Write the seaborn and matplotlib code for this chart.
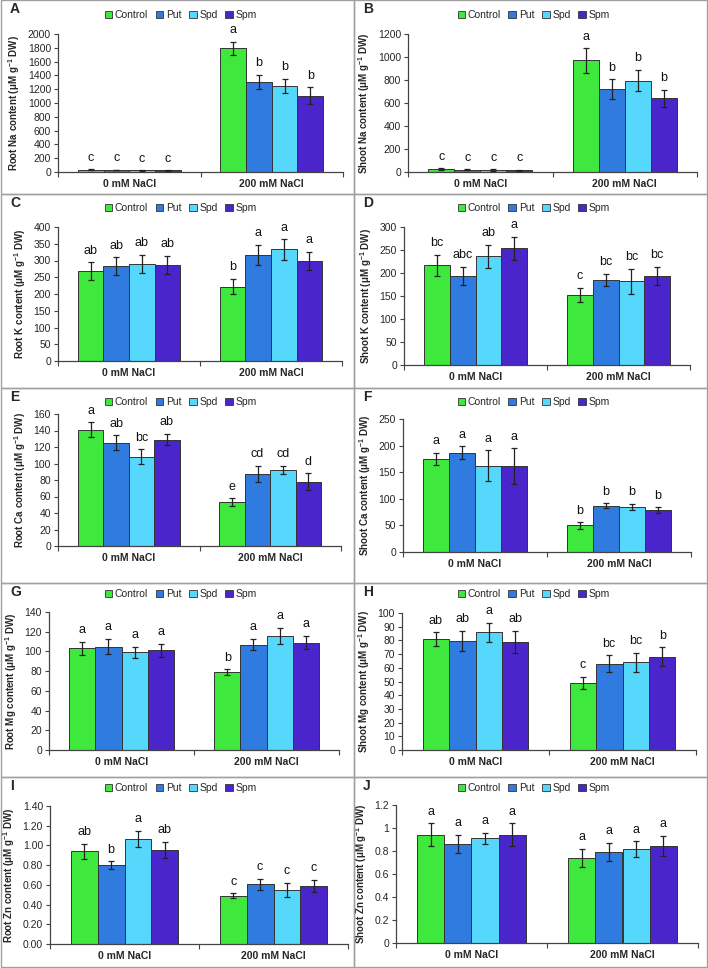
import numpy as np
import pandas as pd
import matplotlib
matplotlib.use("Agg")
import matplotlib.pyplot as plt
import seaborn as sns
from matplotlib.patches import Patch, Rectangle
from matplotlib.ticker import MultipleLocator, FormatStrFormatter, FixedLocator, NullFormatter

sns.set_theme(style="white")
plt.rcParams["font.family"] = ["Liberation Sans", "DejaVu Sans"]
plt.rcParams["mathtext.fontset"] = "custom"
plt.rcParams["mathtext.bf"] = "Liberation Sans:bold"
plt.rcParams["mathtext.rm"] = "Liberation Sans:bold"

# ---------------- data ----------------
treatments = ["Control", "Put", "Spd", "Spm"]
salts = ["0 mM NaCl", "200 mM NaCl"]
colors = ["#3fe83c", "#2f7be0", "#55d8fb", "#4b25cc"]

# order: 0 mM (Control, Put, Spd, Spm), then 200 mM (Control, Put, Spd, Spm)
root_na_mean = [30, 28, 22, 22, 1795, 1305, 1250, 1105]
root_na_err = [8, 6, 5, 5, 95, 105, 100, 125]
root_na_letters = ["c", "c", "c", "c", "a", "b", "b", "b"]

shoot_na_mean = [25, 20, 18, 15, 970, 720, 795, 640]
shoot_na_err = [6, 5, 5, 4, 105, 85, 95, 75]
shoot_na_letters = ["c", "c", "c", "c", "a", "b", "b", "b"]

root_k_mean = [268, 283, 290, 287, 222, 317, 333, 299]
root_k_err = [27, 27, 27, 27, 23, 30, 31, 27]
root_k_letters = ["ab", "ab", "ab", "ab", "b", "a", "a", "a"]

shoot_k_mean = [217, 194, 236, 254, 153, 185, 182, 193]
shoot_k_err = [23, 20, 25, 25, 15, 13, 27, 20]
shoot_k_letters = ["bc", "abc", "ab", "a", "c", "bc", "bc", "bc"]

root_ca_mean = [141, 125, 108, 129, 53, 87, 92, 78]
root_ca_err = [9, 9, 9, 7, 5, 10, 5, 10]
root_ca_letters = ["a", "ab", "bc", "ab", "e", "cd", "cd", "d"]

shoot_ca_mean = [175, 187, 162, 161, 50, 87, 85, 79]
shoot_ca_err = [12, 12, 29, 34, 6, 5, 6, 5]
shoot_ca_letters = ["a", "a", "a", "a", "b", "b", "b", "b"]

root_mg_mean = [103, 105, 99, 101, 79, 107, 116, 109]
root_mg_err = [7, 8, 6, 7, 3, 6, 8, 7]
root_mg_letters = ["a", "a", "a", "a", "b", "a", "a", "a"]

shoot_mg_mean = [81, 79.5, 86, 79, 49, 63, 64, 68]
shoot_mg_err = [5, 7.5, 7, 8, 4.5, 6, 7, 7]
shoot_mg_letters = ["ab", "ab", "a", "ab", "c", "bc", "bc", "b"]

root_zn_mean = [0.94, 0.80, 1.065, 0.955, 0.49, 0.605, 0.55, 0.59]
root_zn_err = [0.075, 0.04, 0.085, 0.08, 0.025, 0.055, 0.07, 0.06]
root_zn_letters = ["ab", "b", "a", "ab", "c", "c", "c", "c"]

shoot_zn_mean = [0.94, 0.86, 0.91, 0.94, 0.74, 0.79, 0.815, 0.845]
shoot_zn_err = [0.10, 0.08, 0.05, 0.10, 0.08, 0.08, 0.07, 0.085]
shoot_zn_letters = ["a", "a", "a", "a", "a", "a", "a", "a"]

# ---------------- layout (pixels) ----------------
W, H = 708, 968
fig = plt.figure(figsize=(W / 100, H / 100), dpi=100)
fig.patch.set_facecolor("white")

def fx(x):
    return x / W

def fy(y):
    return 1 - y / H

row_tops = [0, 194, 388, 583, 777, 967]
col_lefts = [1, 354, 707]

panels = [
    ("A", "Root Na", root_na_mean, root_na_err, root_na_letters, 2000, 200, "%d", (58, 34, 343, 172), 0, 0),
    ("B", "Shoot Na", shoot_na_mean, shoot_na_err, shoot_na_letters, 1200, 200, "%d", (408, 34, 697, 172), 1, 0),
    ("C", "Root K", root_k_mean, root_k_err, root_k_letters, 400, 50, "%d", (58, 227, 342, 361), 0, 1),
    ("D", "Shoot K", shoot_k_mean, shoot_k_err, shoot_k_letters, 300, 50, "%d", (404, 227, 690, 365), 1, 1),
    ("E", "Root Ca", root_ca_mean, root_ca_err, root_ca_letters, 160, 20, "%d", (58, 414, 341, 546), 0, 2),
    ("F", "Shoot Ca", shoot_ca_mean, shoot_ca_err, shoot_ca_letters, 250, 50, "%d", (403, 419, 691, 552), 1, 2),
    ("G", "Root Mg", root_mg_mean, root_mg_err, root_mg_letters, 140, 20, "%d", (49, 612, 339, 750), 0, 3),
    ("H", "Shoot Mg", shoot_mg_mean, shoot_mg_err, shoot_mg_letters, 100, 10, "%d", (402, 613, 696, 750), 1, 3),
    ("I", "Root Zn", root_zn_mean, root_zn_err, root_zn_letters, 1.4, 0.2, "%.2f", (50, 806, 348, 944), 0, 4),
    ("J", "Shoot Zn", shoot_zn_mean, shoot_zn_err, shoot_zn_letters, 1.2, 0.2, "%g", (396, 805, 698, 943), 1, 4),
]

legend_y = [15, 208, 402, 594, 788]
axis_color = "#444444"

for (letter, lab, mean, err, lets, ymax, step, fmt, rect, col, row) in panels:
    l, t, r, b = rect
    ax = fig.add_axes([fx(l), fy(b), (r - l) / W, (b - t) / H])
    df = pd.DataFrame({
        "salt": np.repeat(salts, len(treatments)),
        "treatment": treatments * len(salts),
        "value": mean,
    })
    sns.barplot(data=df, x="salt", y="value", hue="treatment", order=salts,
                hue_order=treatments, palette=colors, saturation=1, width=0.72,
                errorbar=None, edgecolor="#333333", linewidth=0.7, legend=False, ax=ax)
    bar_conts = list(ax.containers)
    for hi, cont in enumerate(bar_conts):
        for si, bar in enumerate(cont.patches):
            idx = si * len(treatments) + hi
            xc = bar.get_x() + bar.get_width() / 2
            ax.errorbar(xc, mean[idx], yerr=err[idx], color="#222222", capsize=2.5,
                        elinewidth=0.9, capthick=0.9, fmt="none", zorder=5)
            ax.annotate(lets[idx], (xc, mean[idx] + err[idx]), xytext=(0, 4),
                        textcoords="offset points", ha="center", va="bottom",
                        fontsize=9, color="#111111")
    ax.set_xlim(-0.5, 1.5)
    ax.set_ylim(0, ymax)
    ax.yaxis.set_major_locator(MultipleLocator(step))
    ax.yaxis.set_major_formatter(FormatStrFormatter(fmt))
    ax.xaxis.set_major_locator(FixedLocator([-0.5, 0.5, 1.5]))
    ax.xaxis.set_major_formatter(NullFormatter())
    ax.xaxis.set_minor_locator(FixedLocator([0, 1]))
    ax.set_xticklabels(salts, minor=True)
    ax.tick_params(axis="x", which="major", length=3.5, width=0.8, color=axis_color, direction="out", bottom=True)
    ax.tick_params(axis="x", which="minor", length=0, pad=5, labelsize=7.5)
    for tl in ax.get_xticklabels(minor=True):
        tl.set_fontweight("bold")
    ax.tick_params(axis="y", length=3, width=0.8, color=axis_color, direction="out", left=True,
                   labelsize=7.5, pad=2)
    for s in ["top", "right"]:
        ax.spines[s].set_visible(False)
    for s in ["left", "bottom"]:
        ax.spines[s].set_color(axis_color)
        ax.spines[s].set_linewidth(0.9)
    ax.set_xlabel("")
    ax.set_ylabel(lab + r" content (μM g$^{\mathbf{-1}}$ DW)", fontsize=7, fontweight="bold", labelpad=4)
    ax.set_facecolor("white")

    handles = [Patch(facecolor=c, edgecolor="#333333", linewidth=0.6, label=tn)
               for c, tn in zip(colors, treatments)]
    cx = (col_lefts[col] + col_lefts[col + 1]) / 2 + 3
    ax.legend(handles=handles, loc="center", bbox_to_anchor=(fx(cx), fy(legend_y[row])),
              bbox_transform=fig.transFigure, ncol=4, frameon=False, fontsize=7.5,
              handlelength=0.75, handleheight=0.75, handletextpad=0.25, columnspacing=0.7,
              borderpad=0, borderaxespad=0)

    fig.text(fx(col_lefts[col] + 9), fy(row_tops[row] + 2), letter, fontsize=10,
             fontweight="bold", ha="left", va="top")

for ri in range(5):
    for ci in range(2):
        x0, x1 = col_lefts[ci], col_lefts[ci + 1]
        y0, y1 = row_tops[ri], row_tops[ri + 1]
        fig.add_artist(Rectangle((fx(x0), fy(y1)), (x1 - x0) / W, (y1 - y0) / H,
                                 transform=fig.transFigure, fill=False,
                                 edgecolor="#a0a0a0", linewidth=1.0))

fig.savefig("out.png", dpi=100, facecolor="white")
